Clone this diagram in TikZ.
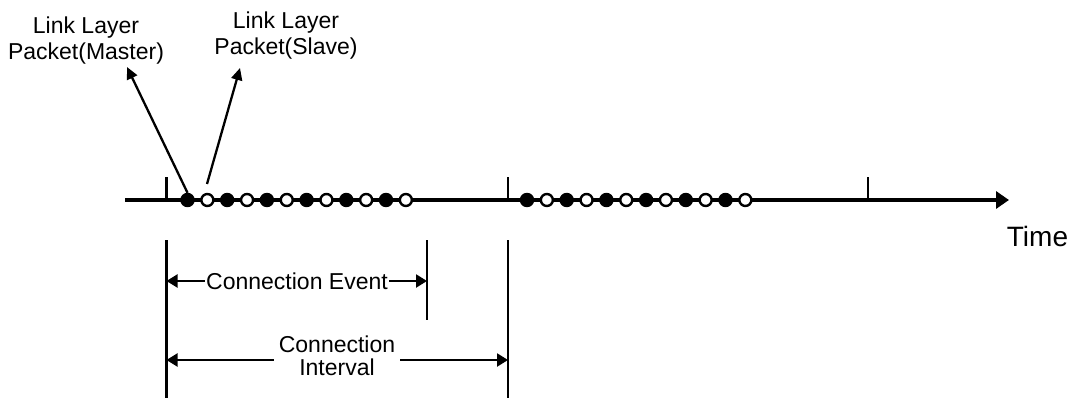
\documentclass[tikz,border=0pt]{standalone}
\usepackage{fontspec}
\setmainfont{Liberation Sans}
\usetikzlibrary{arrows.meta}
\tikzset{
  lbl/.style={inner sep=0pt, align=center, font=\fontsize{23}{26}\selectfont},
  dimlbl/.style={inner ysep=0pt, inner xsep=1.5pt, align=center, font=\fontsize{23}{22.5}\selectfont},
  pkton/.style={circle, draw=black, fill=black, line width=2.4pt, minimum size=12pt, inner sep=0pt},
  pktoff/.style={circle, draw=black, fill=white, line width=2.4pt, minimum size=12pt, inner sep=0pt},
  axisline/.style={line width=3.4pt, -{Triangle[length=13pt,width=17pt]}},
  tickline/.style={line width=2.4pt},
  guide/.style={line width=2.2pt},
  dimarrow/.style={line width=2.2pt, -{Triangle[length=11pt,width=13pt]}},
  ptr/.style={line width=2.3pt, -{Triangle[length=12pt,width=11pt]}}
}
\begin{document}
\begin{tikzpicture}[x=1pt,y=-1pt]
\useasboundingbox (0,0) rectangle (1074,401);
% time axis
\coordinate (axs) at (125,200);
\coordinate (axe) at (1009,200);
\draw[axisline] (axs) -- (axe);
\node[lbl, font=\fontsize{28}{30}\selectfont] (time) at (1037.5,236) {Time};
% ticks
\foreach \n/\x in {t1/166.5, t2/508, t3/868} {
  \coordinate (\n b) at (\x,200);
  \coordinate (\n t) at (\x,177);
  \draw[tickline] (\n b) -- (\n t);
}
% packets
\foreach \i in {0,...,11} {
  \pgfmathsetmacro{\xa}{187.5+19.85*\i}
  \pgfmathsetmacro{\xb}{527+19.85*\i}
  \pgfmathtruncatemacro{\k}{\i+1}
  \ifodd\i
    \node[pktoff] (c\k) at (\xa,200) {};
    \node[pktoff] (d\k) at (\xb,200) {};
  \else
    \node[pkton] (c\k) at (\xa,200) {};
    \node[pkton] (d\k) at (\xb,200) {};
  \fi
}
% packet labels
\node[lbl] (mlabel) at (86,41) {Link Layer\\Packet(Master)};
\node[lbl] (slabel) at (286,35.5) {Link Layer\\Packet(Slave)};
\coordinate (mtip) at (127,67);
\coordinate (stip) at (240,68);
\coordinate (sfoot) at (207,184);
\draw[ptr] (c1.north) -- (mtip);
\draw[ptr] (sfoot) -- (stip);
% guide lines
\coordinate (L1) at (166.5,240); \coordinate (L1b) at (166.5,398);
\coordinate (M1) at (427,240);   \coordinate (M1b) at (427,320);
\coordinate (R1) at (508,240);   \coordinate (R1b) at (508,398);
\draw[guide] (L1) -- (L1b);
\draw[guide] (M1) -- (M1b);
\draw[guide] (R1) -- (R1b);
% connection event
\node[dimlbl] (ev) at (297,281) {Connection Event};
\draw[dimarrow] (ev.west) -- (L1 |- ev.west);
\draw[dimarrow] (ev.east) -- (M1 |- ev.east);
% connection interval
\node[dimlbl, inner xsep=5pt] (iv) at (337,356) {Connection\\Interval};
\coordinate (ivw) at ([yshift=-4pt]iv.west);
\coordinate (ive) at ([yshift=-4pt]iv.east);
\draw[dimarrow] (ivw) -- (L1 |- ivw);
\draw[dimarrow] (ive) -- (R1 |- ive);
\end{tikzpicture}
\end{document}
